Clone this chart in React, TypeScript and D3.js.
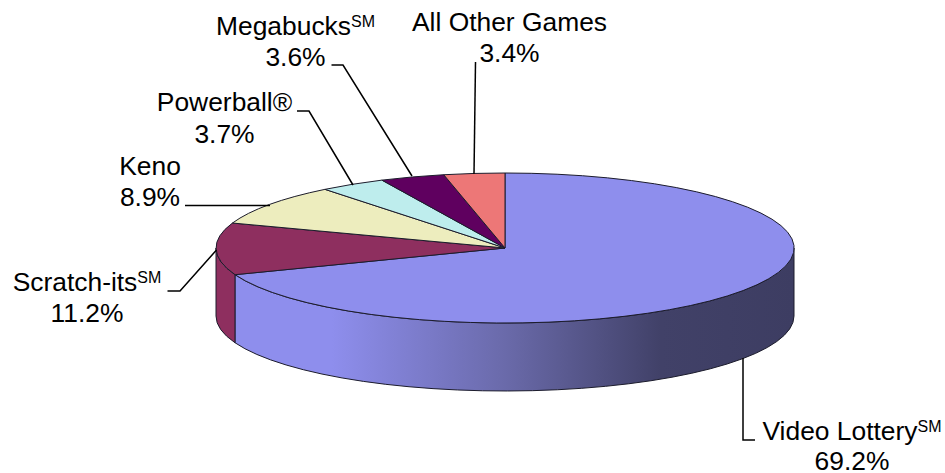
import React from "react";
import * as d3 from "d3";

const games = ["Video Lottery", "Scratch-its", "Keno", "Powerball®", "Megabucks", "All Other Games"];
const shares = [69.2, 11.2, 8.9, 3.7, 3.6, 3.4];
const marks = ["SM", "SM", "", "", "SM", ""];
const colors = ["#8E8EED", "#8E2F5F", "#EDEDBE", "#BEEDED", "#5F005F", "#ED7777"];

// Label placement: centre x, first baseline, second baseline.
const labelX = [852, 87, 150, 224.5, 295.5, 509.5];
const labelY1 = [440, 291, 175, 111, 35, 31];
const labelY2 = [470, 322, 206, 142.5, 66, 62];

// Leader line vertices, one polyline per game.
const leaders: [number, number][][] = [
  [[743, 358], [743, 440], [755, 440]],
  [[167.5, 291], [180, 291], [216.5, 250]],
  [[185, 205.5], [270, 205.5]],
  [[297, 111], [309, 111], [353, 185]],
  [[331.5, 65], [343, 65], [412, 176]],
  [[475.5, 62], [474, 174]],
];

const W = 945;
const H = 473;
const cx = 505;
const cy = 248;
const rx = 289;
const ry = 75;
const depth = 68;
const edge = "#1c1c2c";
const fontFamily = "'Liberation Sans', Arial, sans-serif";
const fontSize = 26.4;

const slices = d3
  .pie<number>()
  .sort(null)
  .value((d) => d)(shares);

const topSlice = d3.arc<d3.PieArcDatum<number>>().innerRadius(0).outerRadius(1);

const px = (a: number) => cx + rx * Math.sin(a);
const py = (a: number) => cy - ry * Math.cos(a);

// Outer wall between two angles, limited to the front half of the ellipse.
function wall(a0: number, a1: number) {
  const s = Math.max(a0, Math.PI / 2);
  const e = Math.min(a1, (3 * Math.PI) / 2);
  if (e <= s) return "";
  return [
    `M${px(s)},${py(s)}`,
    `A${rx},${ry} 0 0 1 ${px(e)},${py(e)}`,
    `L${px(e)},${py(e) + depth}`,
    `A${rx},${ry} 0 0 0 ${px(s)},${py(s) + depth}`,
    "Z",
  ].join(" ");
}

const leaderLine = d3.line();

export default function App() {
  return (
    <svg
      width={W}
      height={H}
      viewBox={`0 0 ${W} ${H}`}
      style={{ position: "absolute", left: 0, top: 0, background: "#fff" }}
      fontFamily={fontFamily}
      fontSize={fontSize}
    >
      <defs>
        <linearGradient id="wallShade" gradientUnits="userSpaceOnUse" x1={cx - rx} x2={cx + rx} y1={0} y2={0}>
          <stop offset="0.2" stopColor="#8E8EED" />
          <stop offset="0.5" stopColor="#6A6AAA" />
          <stop offset="0.77" stopColor="#414168" />
          <stop offset="1" stopColor="#3D3D62" />
        </linearGradient>
      </defs>

      {slices.map((s, i) => {
        const d = wall(s.startAngle, s.endAngle);
        return d ? (
          <path key={i} d={d} fill={i === 0 ? "url(#wallShade)" : colors[i]} stroke={edge} strokeWidth={1} />
        ) : null;
      })}

      <g transform={`translate(${cx},${cy}) scale(${rx},${ry})`}>
        {slices.map((s, i) => (
          <path
            key={i}
            d={topSlice(s) ?? ""}
            fill={colors[i]}
            stroke={edge}
            strokeWidth={1}
            vectorEffect="non-scaling-stroke"
          />
        ))}
      </g>

      {leaders.map((pts, i) => (
        <path key={i} d={leaderLine(pts) ?? ""} fill="none" stroke="#000" strokeWidth={1.5} />
      ))}

      {games.map((g, i) => (
        <g key={g} fill="#000" textAnchor="middle">
          <text x={labelX[i]} y={labelY1[i]}>
            {g}
            {marks[i] && (
              <tspan fontSize={16} dy={-8}>
                {marks[i]}
              </tspan>
            )}
          </text>
          <text x={labelX[i]} y={labelY2[i]}>
            {`${shares[i].toFixed(1)}%`}
          </text>
        </g>
      ))}
    </svg>
  );
}
